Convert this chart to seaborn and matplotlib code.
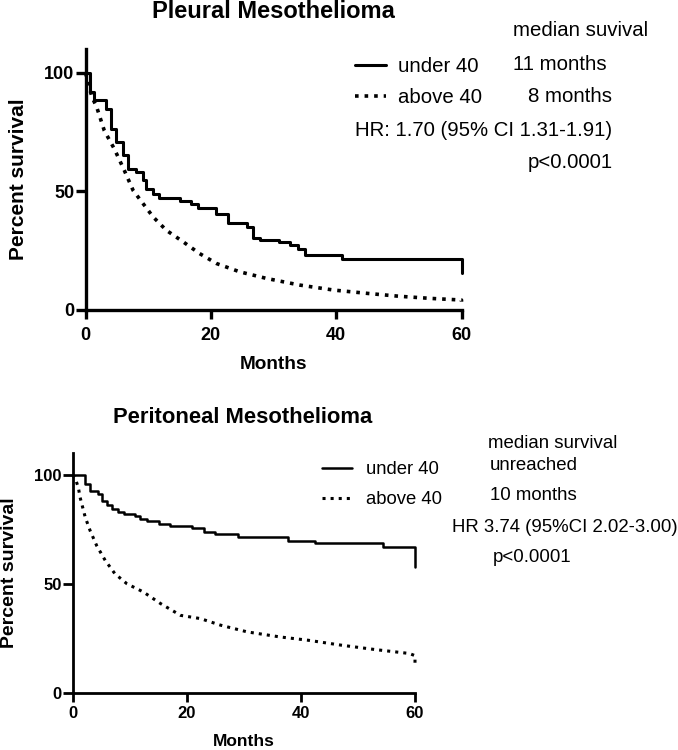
import matplotlib
matplotlib.use("Agg")
import matplotlib.pyplot as plt
import pandas as pd
import seaborn as sns

# --- values (Kaplan-Meier curves, percent survival) ---
pleural_under_months = [0, 0.7, 1.4, 3.2, 4.1, 4.9, 6.0, 6.8, 8.1, 9.1, 9.7, 10.8, 11.8,
                        15.0, 16.9, 17.9, 20.9, 22.8, 25.7, 26.8, 27.8, 30.8, 32.6, 33.9,
                        35.0, 40.9, 60]
pleural_under_surv = [100, 91.7, 88.5, 84.7, 76.3, 70.7, 65.5, 59.5, 58.0, 54.6, 51.0, 48.7,
                      47.2, 45.8, 44.5, 43.1, 40.6, 36.8, 35.0, 30.5, 29.7, 28.7, 27.3, 25.9,
                      23.1, 21.7, 15.7]
pleural_above_months = [0, 1.0, 1.8, 3.0, 4.6, 6.2, 7.6, 9.2, 10.8, 12.9, 15.6, 18.2, 20.9,
                        24.6, 28.9, 34.2, 39.6, 45, 50, 55, 60, 60]
pleural_above_surv = [100, 90, 85.4, 75.6, 67.9, 58.8, 50.4, 44.8, 39.2, 33.6, 28.7, 23.8,
                      19.6, 16.1, 13.3, 10.5, 8.4, 7.0, 5.8, 4.9, 4.2, 3.5]

perit_under_months = [0, 2.2, 3.05, 4.5, 5.1, 6.0, 6.9, 8.0, 9.0, 11.0, 11.8, 13.0, 15.1,
                      17.1, 20.9, 23.0, 25.0, 28.9, 37.7, 42.4, 54.4, 60]
perit_under_surv = [100, 95.7, 92.4, 91.2, 88.1, 86.3, 84.3, 82.8, 82.0, 80.9, 79.7, 78.7,
                    77.5, 76.4, 75.6, 73.9, 72.6, 71.3, 69.8, 68.6, 66.8, 57.6]
perit_above_months = [0, 0.5, 1.0, 1.3, 2.2, 3.05, 4.2, 5.7, 7.4, 9.5, 12.4, 15.4, 18.9,
                      22.4, 25.9, 30.6, 36.3, 41.2, 47.1, 53, 59, 60, 60]
perit_above_surv = [100, 98, 94, 89.6, 80.5, 74.4, 67.5, 60.7, 54.6, 50.0, 46.2, 40.9, 35.5,
                    34.0, 31.0, 27.9, 25.6, 24.1, 21.8, 19.8, 18.0, 17.0, 11.9]

x_ticks = [0, 20, 40, 60]
y_ticks = [0, 50, 100]

sns.set_theme(style="ticks")
plt.rcParams["font.family"] = ["Liberation Sans", "DejaVu Sans"]
for key in ["text.color", "axes.labelcolor", "xtick.color", "ytick.color", "axes.edgecolor"]:
    plt.rcParams[key] = "black"

W, H = 678, 750
fig = plt.figure(figsize=(W / 100, H / 100), dpi=100)


def fx(px):
    return px / W


def fy(py):
    return 1 - py / H


def panel(ax, under, above, lw, spine_lw, tick_fs, label_fs, xl_fs, xlab_y, ylab_x, xpad):
    d_under = pd.DataFrame({"Months": under[0], "Percent survival": under[1]})
    d_above = pd.DataFrame({"Months": above[0], "Percent survival": above[1]})
    sns.lineplot(data=d_under, x="Months", y="Percent survival", ax=ax, estimator=None,
                 sort=False, drawstyle="steps-post", color="black", lw=lw, label="under 40",
                 clip_on=False)
    sns.lineplot(data=d_above, x="Months", y="Percent survival", ax=ax, estimator=None,
                 sort=False, color="black", lw=lw + 0.4, ls=":", label="above 40",
                 clip_on=False)
    ax.set_xlim(0, 60)
    ax.set_ylim(0, 110)
    ax.set_xticks(x_ticks)
    ax.set_yticks(y_ticks)
    sns.despine(ax=ax)
    for s in ["left", "bottom"]:
        ax.spines[s].set_linewidth(spine_lw)
    ax.tick_params(axis="x", length=6.5, width=spine_lw, pad=xpad, labelsize=tick_fs)
    ax.tick_params(axis="y", length=7, width=spine_lw, pad=1, labelsize=tick_fs)
    for t in ax.get_xticklabels() + ax.get_yticklabels():
        t.set_fontweight("bold")
    ax.set_xlabel("Months", fontsize=xl_fs, fontweight="bold")
    ax.set_ylabel("Percent survival", fontsize=label_fs, fontweight="bold")
    ax.xaxis.set_label_coords(0.5, xlab_y)
    ax.yaxis.set_label_coords(ylab_x, 0.5)
    ax.patch.set_alpha(0)


# --- Pleural ---
ax1 = fig.add_axes([fx(85.5), fy(310), fx(376), 261 / H])
panel(ax1, (pleural_under_months, pleural_under_surv),
      (pleural_above_months, pleural_above_surv),
      lw=2.2, spine_lw=2.4, tick_fs=13, label_fs=15, xl_fs=13.7,
      xlab_y=-0.175, ylab_x=-0.152, xpad=6)
fig.text(fx(273.5), fy(11.5), "Pleural Mesothelioma", ha="center", va="center",
         fontsize=17, fontweight="bold")
ax1.legend(loc="upper left", bbox_to_anchor=(fx(355), fy(57)), bbox_transform=fig.transFigure,
           frameon=False, borderpad=0, borderaxespad=0, handlelength=1.5,
           handletextpad=0.6, labelspacing=0.6, fontsize=14.7)
fs1 = 14.7
fig.text(fx(513), fy(31), "median suvival", va="center", fontsize=fs1)
fig.text(fx(513), fy(65), "11 months", va="center", fontsize=fs1)
fig.text(fx(528), fy(97), "8 months", va="center", fontsize=fs1)
fig.text(fx(355), fy(130), "HR: 1.70 (95% CI 1.31-1.91)", va="center", fontsize=fs1)
fig.text(fx(528), fy(163), "p<0.0001", va="center", fontsize=fs1)

# --- Peritoneal ---
ax2 = fig.add_axes([fx(72.7), fy(692.7), fx(342.3), 239.7 / H])
panel(ax2, (perit_under_months, perit_under_surv),
      (perit_above_months, perit_above_surv),
      lw=1.8, spine_lw=2.0, tick_fs=12, label_fs=14, xl_fs=12.5,
      xlab_y=-0.172, ylab_x=-0.16, xpad=3)
fig.text(fx(243), fy(417), "Peritoneal Mesothelioma", ha="center", va="center",
         fontsize=15.8, fontweight="bold")
ax2.legend(loc="upper left", bbox_to_anchor=(fx(322), fy(461)), bbox_transform=fig.transFigure,
           frameon=False, borderpad=0, borderaxespad=0, handlelength=1.6,
           handletextpad=0.8, labelspacing=0.72, fontsize=13.3)
fs2 = 13.4
fig.text(fx(488), fy(443), "median survival", va="center", fontsize=fs2)
fig.text(fx(490), fy(465), "unreached", va="center", fontsize=fs2)
fig.text(fx(490), fy(496), "10 months", va="center", fontsize=fs2)
fig.text(fx(452), fy(527), "HR 3.74 (95%CI 2.02-3.00)", va="center", fontsize=fs2)
fig.text(fx(493), fy(557), "p<0.0001", va="center", fontsize=fs2)

fig.savefig("out.png", dpi=100)
